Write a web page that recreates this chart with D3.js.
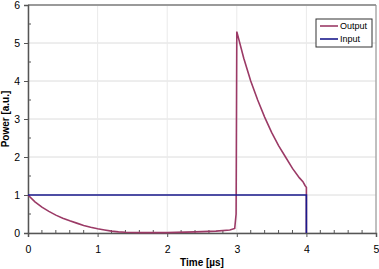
<!DOCTYPE html>
<html>
<head>
<meta charset="utf-8">
<script src="https://cdn.jsdelivr.net/npm/d3@7"></script>
<style>
  body { margin: 0; background: #fff; }
  svg { display: block; font-family: "Liberation Sans", Arial, sans-serif; }
</style>
</head>
<body>
<div id="chart"></div>
<script>
// Output pulse (time in µs, power in a.u.)
const outputTime = [0, 0.1, 0.2, 0.3, 0.4, 0.5, 0.6, 0.7, 0.8, 0.9, 1.0, 1.1, 1.2, 1.3, 1.4, 1.6, 2.0, 2.4, 2.7, 2.9, 2.97, 2.99, 3.0,
  3.1, 3.2, 3.3, 3.4, 3.5, 3.6, 3.7, 3.8, 3.9, 3.95, 3.98, 4.0, 4.0];
const outputPower = [1.0, 0.82, 0.68, 0.57, 0.47, 0.39, 0.32, 0.26, 0.2, 0.15, 0.11, 0.08, 0.05, 0.03, 0.02, 0.01, 0.01, 0.03, 0.05, 0.08, 0.12, 0.5, 5.3,
  4.6, 4.0, 3.5, 3.05, 2.65, 2.3, 2.0, 1.7, 1.45, 1.35, 1.25, 1.2, 0];
// Input pulse
const inputTime = [0, 4.0, 4.0];
const inputPower = [1, 1, 0];

const xTicks = [0, 1, 2, 3, 4, 5];
const yTicks = [0, 1, 2, 3, 4, 5, 6];
const seriesNames = ['Output', 'Input'];
const seriesColors = ['#9b3a66', '#1a1a8c'];

const width = 379, height = 269;
const margin = { top: 5, right: 3, bottom: 36, left: 28 };

const svg = d3.select('#chart').append('svg')
  .attr('width', width)
  .attr('height', height);

const x = d3.scaleLinear().domain([0, 5]).range([margin.left, width - margin.right]);
const y = d3.scaleLinear().domain([0, 6]).range([height - margin.bottom, margin.top]);

// gridlines
svg.append('g')
  .selectAll('line.hgrid')
  .data(yTicks)
  .enter().append('line')
    .attr('x1', x(0)).attr('x2', x(5))
    .attr('y1', d => y(d)).attr('y2', d => y(d))
    .attr('stroke', '#dcdcdc').attr('stroke-width', 1);

svg.append('g')
  .selectAll('line.vgrid')
  .data(xTicks)
  .enter().append('line')
    .attr('x1', d => x(d)).attr('x2', d => x(d))
    .attr('y1', y(0)).attr('y2', y(6))
    .attr('stroke', '#eaeaea').attr('stroke-width', 1);

// frame top and right
svg.append('line')
  .attr('x1', x(0)).attr('x2', x(5))
  .attr('y1', y(6)).attr('y2', y(6))
  .attr('stroke', '#9a9a9a').attr('stroke-width', 2);
svg.append('line')
  .attr('x1', x(5)).attr('x2', x(5))
  .attr('y1', y(6)).attr('y2', y(0))
  .attr('stroke', '#8a8a8a').attr('stroke-width', 1);

// minor ticks (inside)
svg.append('g')
  .selectAll('line')
  .data(d3.range(0.2, 5, 0.2).filter(d => Math.abs(d - Math.round(d)) > 0.01))
  .enter().append('line')
    .attr('x1', d => x(d)).attr('x2', d => x(d))
    .attr('y1', y(0)).attr('y2', y(0) - 3)
    .attr('stroke', '#555');
svg.append('g')
  .selectAll('line')
  .data(d3.range(0.5, 6, 1))
  .enter().append('line')
    .attr('x1', x(0)).attr('x2', x(0) + 3)
    .attr('y1', d => y(d)).attr('y2', d => y(d))
    .attr('stroke', '#555');

// axes
const xAxis = svg.append('g')
  .attr('transform', `translate(0,${y(0)})`)
  .call(d3.axisBottom(x).tickValues(xTicks).tickSize(4).tickPadding(9).tickFormat(d3.format('d')));
const yAxis = svg.append('g')
  .attr('transform', `translate(${x(0)},0)`)
  .call(d3.axisLeft(y).tickValues(yTicks).tickSize(4).tickPadding(4).tickFormat(d3.format('d')));

[xAxis, yAxis].forEach(a => {
  a.select('.domain').attr('stroke', '#555').attr('stroke-width', 1.5);
  a.selectAll('.tick line').attr('stroke', '#555');
  a.selectAll('.tick text').attr('fill', '#000').style('font-size', '10.5px');
});

// axis titles
svg.append('text')
  .attr('x', (x(0) + x(5)) / 2)
  .attr('y', height - 3)
  .attr('text-anchor', 'middle')
  .style('font-size', '10px')
  .style('font-weight', 'bold')
  .text('Time [µs]');

svg.append('text')
  .attr('transform', `translate(9,${(y(0) + y(6)) / 2}) rotate(-90)`)
  .attr('text-anchor', 'middle')
  .style('font-size', '10px')
  .style('font-weight', 'bold')
  .text('Power [a.u.]');

// lines
const line = d3.line()
  .x(d => x(d[0]))
  .y(d => y(d[1]));

const outputData = d3.zip(outputTime, outputPower);
const inputData = d3.zip(inputTime, inputPower);

svg.append('path')
  .datum(outputData)
  .attr('fill', 'none')
  .attr('stroke', seriesColors[0])
  .attr('stroke-width', 1.6)
  .attr('d', line);

svg.append('path')
  .datum(inputData)
  .attr('fill', 'none')
  .attr('stroke', seriesColors[1])
  .attr('stroke-width', 1.6)
  .attr('d', line);

// legend
const legend = svg.append('g').attr('transform', 'translate(316,19)');
legend.append('rect')
  .attr('width', 56).attr('height', 28)
  .attr('fill', '#fff')
  .attr('stroke', '#333').attr('stroke-width', 1);

const items = legend.selectAll('g.item')
  .data(seriesNames)
  .enter().append('g')
    .attr('transform', (d, i) => `translate(0,${7 + i * 13})`);
items.append('line')
  .attr('x1', 4).attr('x2', 22)
  .attr('stroke', (d, i) => seriesColors[i])
  .attr('stroke-width', 1.6);
items.append('text')
  .attr('x', 24).attr('dy', '0.35em')
  .style('font-size', '9px')
  .text(d => d);
</script>
</body>
</html>
